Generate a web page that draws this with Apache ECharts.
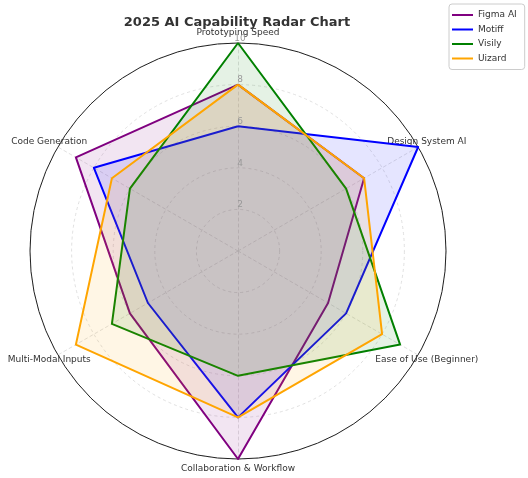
<!DOCTYPE html>
<html>
<head>
<meta charset="utf-8">
<script src="https://cdn.jsdelivr.net/npm/echarts@6/dist/echarts.min.js"></script>
<style>
  html, body { margin: 0; padding: 0; background: #fff; }
  #chart { width: 528px; height: 478px; }
</style>
</head>
<body>
<div id="chart"></div>
<script>
// axes in clockwise order, starting at the top
const categories = ['Prototyping Speed', 'Design System AI', 'Ease of Use (Beginner)',
  'Collaboration & Workflow', 'Multi-Modal Inputs', 'Code Generation'];
const figmaAI = [8, 7, 5, 10, 6, 9];
const motiff = [6, 10, 6, 8, 5, 8];
const visily = [10, 6, 9, 6, 7, 6];
const uizard = [8, 7, 8, 8, 9, 7];
const tickLabels = [2, 4, 6, 8, 10];

const seriesList = [
  { name: 'Figma AI', color: '#800080', data: figmaAI },
  { name: 'Motiff', color: '#0000ff', data: motiff },
  { name: 'Visily', color: '#008000', data: visily },
  { name: 'Uizard', color: '#ffa500', data: uizard }
];

// echarts lays radar indicators out counter-clockwise, so flip the order after the first
const order = [0, 5, 4, 3, 2, 1];
const reorder = arr => order.map(i => arr[i]);

const font = 'DejaVu Sans';
const center = [238, 251];
const radius = 208;

const chart = echarts.init(document.getElementById('chart'));

chart.setOption({
  animation: false,
  textStyle: { fontFamily: font },
  title: {
    text: '2025 AI Capability Radar Chart',
    left: 232,
    top: 11,
    textAlign: 'center',
    textStyle: { fontFamily: font, fontSize: 13, fontWeight: 'bold', color: '#333' }
  },
  legend: {
    orient: 'vertical',
    left: 449,
    top: 4,
    padding: [5, 8, 5, 3],
    borderColor: '#ccc',
    borderWidth: 1,
    borderRadius: 3,
    backgroundColor: '#fff',
    itemWidth: 21,
    itemHeight: 2,
    itemGap: 2.5,
    icon: 'rect',
    data: seriesList.map(s => s.name),
    textStyle: { fontFamily: font, fontSize: 9, color: '#333', lineHeight: 12 }
  },
  polar: { center: center, radius: radius },
  angleAxis: {
    type: 'value',
    startAngle: 90,
    min: 0,
    max: 360,
    axisLine: { show: true, lineStyle: { color: '#222', width: 1 } },
    axisTick: { show: false },
    axisLabel: { show: false },
    splitLine: { show: false }
  },
  radiusAxis: {
    type: 'value',
    min: 0,
    max: 10,
    interval: 2,
    axisLine: { show: false },
    axisTick: { show: false },
    splitLine: { show: false },
    axisLabel: {
      showMinLabel: false,
      margin: 0,
      align: 'center',
      verticalAlign: 'bottom',
      padding: [0, 0, 0, 4],
      fontFamily: font,
      fontSize: 9,
      color: '#999',
      formatter: v => (tickLabels.indexOf(v) >= 0 ? String(v) : '')
    },
    z: 5
  },
  radar: {
    center: center,
    radius: radius,
    shape: 'circle',
    startAngle: 90,
    splitNumber: 5,
    indicator: reorder(categories).map(name => ({ name: name, max: 10, min: 0 })),
    axisName: {
      fontFamily: font,
      fontSize: 9,
      color: '#333',
      align: 'center',
      verticalAlign: 'middle'
    },
    nameGap: 10,
    axisLine: { lineStyle: { color: '#d8d8d8', type: [3, 3], width: 0.8 } },
    splitLine: { lineStyle: { color: '#d8d8d8', type: [3, 3], width: 0.8 } },
    splitArea: { show: false }
  },
  series: seriesList.map(s => ({
    name: s.name,
    type: 'radar',
    symbol: 'none',
    color: s.color,
    lineStyle: { color: s.color, width: 2 },
    areaStyle: { color: s.color, opacity: 0.1 },
    data: [{ value: reorder(s.data), name: s.name }]
  }))
});
</script>
</body>
</html>
